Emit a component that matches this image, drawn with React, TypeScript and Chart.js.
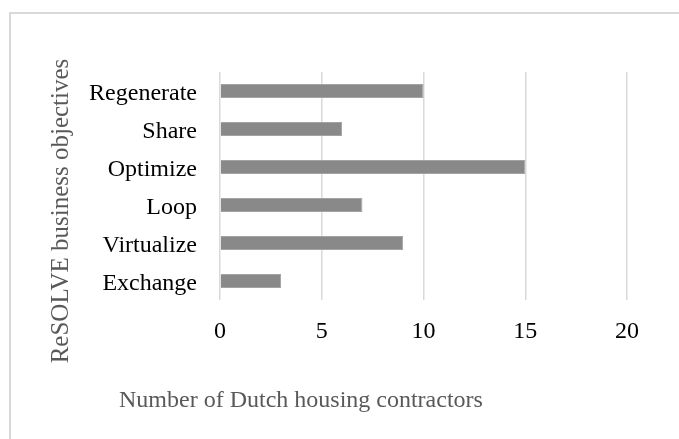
import React, { useEffect, useRef } from "react";
import { Chart, registerables } from "chart.js";

Chart.register(...registerables);

const categories = ["Regenerate", "Share", "Optimize", "Loop", "Virtualize", "Exchange"];
const contractorCounts = [10, 6, 15, 7, 9, 3];
const xTickValues = [0, 5, 10, 15, 20];
const xAxisTitle = "Number of Dutch housing contractors";
const yAxisTitle = "ReSOLVE business objectives";

const SERIF = "'Liberation Serif', 'Times New Roman', serif";

const framePlugin = {
  id: "frameAndTitles",
  beforeDraw(chart: any) {
    const ctx = chart.ctx;
    ctx.save();
    ctx.strokeStyle = "#d9d9d9";
    ctx.lineWidth = 2;
    ctx.beginPath();
    ctx.moveTo(10, chart.height + 2);
    ctx.lineTo(10, 13);
    ctx.lineTo(chart.width + 2, 13);
    ctx.stroke();
    ctx.restore();
  },
  afterDraw(chart: any) {
    const ctx = chart.ctx;
    const area = chart.chartArea;
    ctx.save();
    ctx.fillStyle = "#595959";
    ctx.font = `24px ${SERIF}`;
    // x axis title
    ctx.textAlign = "left";
    ctx.textBaseline = "alphabetic";
    ctx.fillText(xAxisTitle, area.left - 101, area.bottom + 107);
    // y axis title
    ctx.font = `25px ${SERIF}`;
    ctx.translate(area.left - 159, (area.top + area.bottom) / 2 + 25);
    ctx.rotate(-Math.PI / 2);
    ctx.textAlign = "center";
    ctx.textBaseline = "middle";
    ctx.fillText(yAxisTitle, 0, 0);
    ctx.restore();
  },
};

export default function App() {
  const canvasRef = useRef<HTMLCanvasElement | null>(null);

  useEffect(() => {
    if (!canvasRef.current) return;
    const chart = new Chart(canvasRef.current, {
      type: "bar",
      data: {
        labels: categories,
        datasets: [
          {
            data: contractorCounts,
            backgroundColor: "#898989",
            borderColor: "#a3a3a3",
            borderWidth: 1,
            categoryPercentage: 0.7,
            barPercentage: 0.52,
          },
        ],
      },
      options: {
        indexAxis: "y",
        animation: false,
        responsive: true,
        maintainAspectRatio: false,
        layout: { padding: { left: 0, top: 72, right: 52, bottom: 0 } },
        plugins: {
          legend: { display: false },
          tooltip: { enabled: false },
          title: { display: false },
        },
        scales: {
          x: {
            type: "linear",
            min: 0,
            max: 20,
            afterBuildTicks(scale: any) {
              scale.ticks = xTickValues.map((v) => ({ value: v }));
            },
            afterFit(scale: any) {
              scale.height = 139;
              scale.paddingLeft = 0;
              scale.paddingRight = 0;
            },
            grid: {
              color: "#d9d9d9",
              lineWidth: 1.5,
              drawTicks: false,
            },
            border: { display: false },
            ticks: {
              padding: 17,
              color: "#000000",
              font: { family: SERIF, size: 24 },
              maxRotation: 0,
            },
          },
          y: {
            afterFit(scale: any) {
              scale.width = 220;
              scale.paddingTop = 0;
              scale.paddingBottom = 0;
            },
            grid: { display: false, drawTicks: false },
            border: { display: false },
            ticks: {
              padding: 23,
              labelOffset: 3,
              color: "#000000",
              font: { family: SERIF, size: 24 },
            },
          },
        },
      },
      plugins: [framePlugin],
    });
    return () => chart.destroy();
  }, []);

  return (
    <div style={{ position: "absolute", left: 0, top: 0, width: "679px", height: "439px", background: "#ffffff" }}>
      <canvas ref={canvasRef} />
    </div>
  );
}
